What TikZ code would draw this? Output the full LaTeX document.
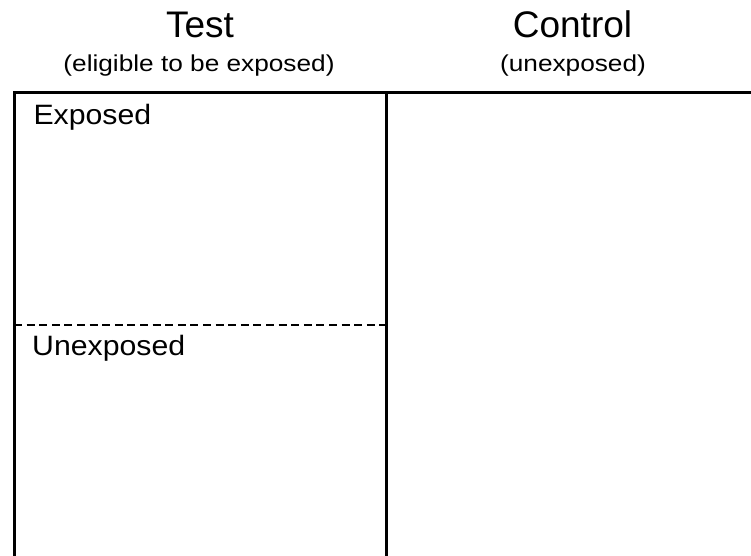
\documentclass[tikz,border=0pt]{standalone}
\usepackage{fontspec}
\setmainfont{Liberation Sans}
\tikzset{
  frameline/.style={line width=3pt, black},
  midline/.style={line width=2.5pt, black},
  splitline/.style={line width=2pt, black, dash pattern=on 8pt off 4.6pt},
  title/.style={anchor=base, inner sep=0pt, font=\fontsize{37}{40}\selectfont},
  subtitle/.style={anchor=base, inner sep=0pt, font=\fontsize{23}{26}\selectfont},
  cell/.style={anchor=base west, inner sep=0pt, font=\fontsize{28}{32}\selectfont}
}
\begin{document}
\begin{tikzpicture}[x=1pt, y=-1pt]
  \useasboundingbox (0,0) rectangle (751,555);
  \clip (0,0) rectangle (751,555);
  \coordinate (tl) at (14,92);
  \coordinate (tr) at (760,92);
  \coordinate (bl) at (14,565);
  \coordinate (mt) at (386.5,92);
  \coordinate (mb) at (386.5,565);
  \coordinate (dl) at (14,325);
  \coordinate (dr) at (386.5,325);
  \draw[splitline] (dl) -- (dr);
  \draw[frameline] (bl) -- (tl) -- (tr);
  \draw[midline] (mt) -- (mb);
  \node[title] (test) at (200,37) {Test};
  \node[subtitle] (testsub) at (199,71.5) {\scalebox{1.14}[1]{(eligible to be exposed)}};
  \node[title] (control) at (572.5,37.5) {Control};
  \node[subtitle] (controlsub) at (573,71.5) {\scalebox{1.14}[1]{(unexposed)}};
  \node[cell] (exposed) at (33.3,124.3) {\scalebox{1.08}[1]{Exposed}};
  \node[cell] (unexposed) at (32,355) {\scalebox{1.08}[1]{Unexposed}};
\end{tikzpicture}
\end{document}
